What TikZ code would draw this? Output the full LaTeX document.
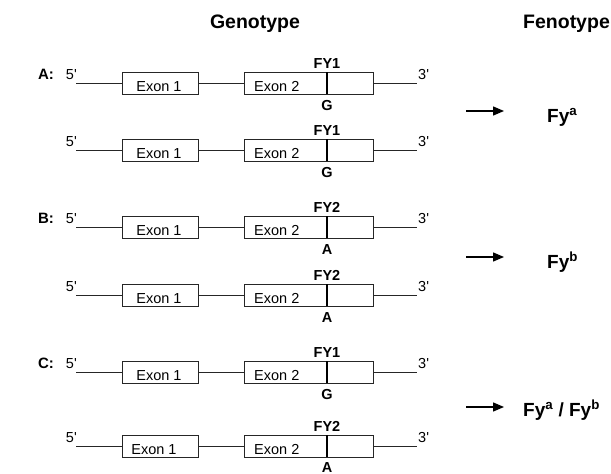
\documentclass[tikz,border=0pt]{standalone}
\usepackage{fontspec}
\setmainfont{Liberation Sans}
\usetikzlibrary{arrows.meta}
\tikzset{
  dna/.style={line width=0.8pt, black!85},
  exon/.style={draw=black!85, line width=0.8pt, minimum height=22pt, inner sep=0pt},
  snp/.style={line width=2.6pt, black},
  small/.style={inner sep=0pt, font=\fontsize{14.5}{16}\selectfont},
  smallb/.style={inner sep=0pt, font=\fontsize{14.5}{16}\selectfont\bfseries},
  rowlab/.style={inner sep=0pt, font=\fontsize{15}{17}\selectfont\bfseries},
  title/.style={inner sep=0pt, anchor=base, font=\fontsize{19.5}{22}\selectfont\bfseries},
  pheno/.style={inner sep=0pt, anchor=base west, font=\fontsize{19}{22}\selectfont\bfseries},
  res/.style={line width=1.4pt, -{Triangle[length=11pt,width=9pt]}},
}
\newcommand{\generow}[7]{% #1 y, #2 id, #3 FY, #4 allele, #5 exon1 x, #6 allele offset
  \coordinate (#2s) at (76,#1);
  \coordinate (#2t) at (417,#1);
  \node[exon, minimum width=76pt] (#2e1) at (160,#1) {};
  \node[exon, minimum width=129pt] (#2e2) at (308.5,#1) {};
  \draw[dna] (#2s) -- (#2e1.west);
  \draw[dna] (#2e1.east) -- (#2e2.west);
  \draw[dna] (#2e2.east) -- (#2t);
  \draw[snp] (327,{#1-11}) -- (327,{#1+11});
  \node[small, anchor=base east] (#2p5) at (77,{#1-4}) {5\textquotesingle};
  \node[small, anchor=base west] (#2p3) at (418,{#1-4}) {3\textquotesingle};
  \node[small, anchor=base] (#2x1) at (#5,{#1+8}) {Exon 1};
  \node[small, anchor=base west] (#2x2) at (254,{#1+8}) {Exon 2};
  \node[smallb, anchor=base] (#2fy) at (327,{#1-15}) {#3};
  \node[smallb, anchor=base] (#2al) at (327,{#1+#6}) {#4};
}
\begin{document}
\begin{tikzpicture}[x=1pt,y=-1pt]
\useasboundingbox[fill=white] (0,0) rectangle (611,474);
\node[title] (geno) at (255,28) {Genotype};
\node[title] (feno) at (566.5,28) {Fenotype};

\node[rowlab, anchor=base] (la) at (46,79) {A:};
\node[rowlab, anchor=base] (lb) at (46,223) {B:};
\node[rowlab, anchor=base] (lc) at (46,368) {C:};

\generow{83}{a1}{FY1}{G}{159}{27}{}
\generow{150}{a2}{FY1}{G}{159}{27}{}
\generow{227}{b1}{FY2}{A}{159}{27}{}
\generow{295}{b2}{FY2}{A}{159}{27}{}
\generow{372}{c1}{FY1}{G}{159}{27}{}
\generow{446}{c2}{FY2}{A}{154}{26}{}

\coordinate (ra1) at (466,111); \coordinate (ra2) at (504,111);
\coordinate (rb1) at (466,257); \coordinate (rb2) at (504,257);
\coordinate (rc1) at (466,407); \coordinate (rc2) at (504,407);
\draw[res] (ra1) -- (ra2);
\draw[res] (rb1) -- (rb2);
\draw[res] (rc1) -- (rc2);

\node[pheno] (fa) at (547,122) {Fy\textsuperscript{a}};
\node[pheno] (fb) at (547,268) {Fy\textsuperscript{b}};
\node[pheno] (fab) at (523,416) {Fy\textsuperscript{a} / Fy\textsuperscript{b}};
\end{tikzpicture}
\end{document}
